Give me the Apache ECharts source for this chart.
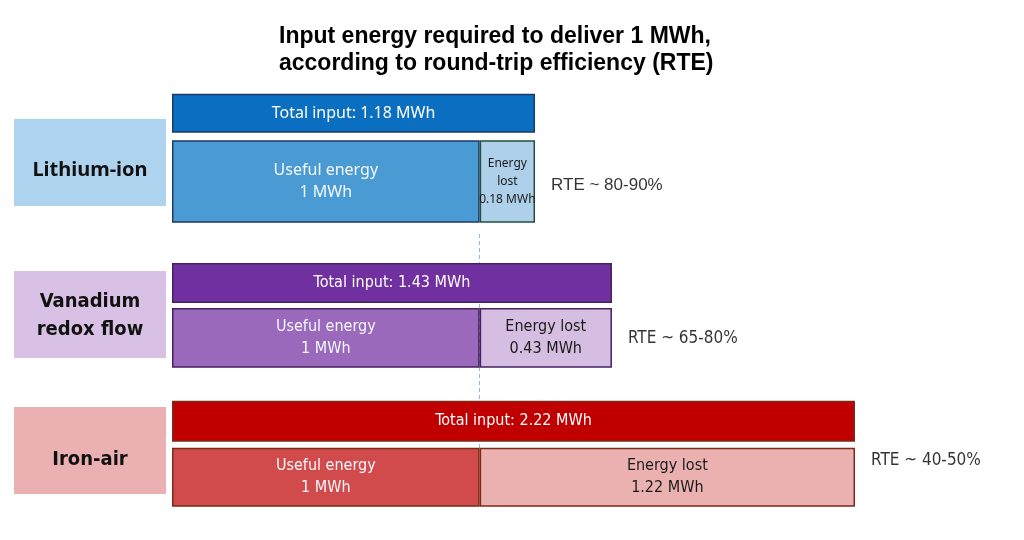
<!DOCTYPE html>
<html>
<head>
<meta charset="utf-8">
<script src="https://cdn.jsdelivr.net/npm/echarts@6/dist/echarts.min.js"></script>
<style>
  html, body { margin: 0; padding: 0; background: #ffffff; }
  #chart { width: 1024px; height: 540px; }
</style>
</head>
<body>
<div id="chart"></div>
<script>
// ---- data ----
const technologies = ['Lithium-ion', 'Vanadium\nredox flow', 'Iron-air'];
const usefulEnergy = [1, 1, 1];
const energyLost = [0.18, 0.43, 1.22];
const totalInput = [1.18, 1.43, 2.22];
const rteLabels = ['RTE ~ 80-90%', 'RTE ~ 65-80%', 'RTE ~ 40-50%'];
const lostLabelTemplates = ['Energy\nlost\n{v} MWh', 'Energy lost\n{v} MWh', 'Energy lost\n{v} MWh'];
const rowNames = ['total', 'split'];
const titleText = 'Input energy required to deliver 1 MWh,\naccording to round-trip efficiency (RTE)';

// ---- layout / styles ----
const xMax = 2.22;
const plotLeft = 172, plotWidth = 683;
const groupLayout = [
  { top: 77, height: 145, totalH: 39, splitH: 91 },
  { top: 255, height: 112, totalH: 40, splitH: 62 },
  { top: 393, height: 113, totalH: 41, splitH: 60 }
];
const palette = [
  { total: '#0A6EC1', useful: '#4A9AD4', lost: '#AED0EA', border: '#1E3A66', lostBorder: '#22503A', box: '#AED3EE' },
  { total: '#7030A0', useful: '#9B69BB', lost: '#D6BEE2', border: '#45215F', lostBorder: '#45215F', box: '#D9C1E6' },
  { total: '#C00000', useful: '#D24B4C', lost: '#EBB1B1', border: '#7A2A18', lostBorder: '#7A2A18', box: '#EBB0B1' }
];
const boxLayout = [
  { y: 119, h: 87, textY: 170 },
  { y: 271, h: 87, textY: 316 },
  { y: 407, h: 87, textY: 460 }
];
const rteOffsets = [[0, 0], [0, 0], [0, -17]];
const condensed = '"DejaVu Sans Condensed", "Liberation Sans Narrow", sans-serif';
const barFont = ['Noto Sans', condensed, condensed];
const boxFont = ['"Noto Sans"', condensed, condensed];

const grid = [], xAxis = [], yAxis = [], series = [];

technologies.forEach((tech, i) => {
  const L = groupLayout[i], C = palette[i];
  grid.push({ left: plotLeft, width: plotWidth, top: L.top, height: L.height });
  xAxis.push({ type: 'value', gridIndex: i, min: 0, max: xMax, show: false });
  yAxis.push({ type: 'category', gridIndex: i, data: rowNames, inverse: true, show: false });
  yAxis.push({ type: 'category', gridIndex: i, data: rowNames, inverse: true, show: false });
  const yTotal = 2 * i, ySplit = 2 * i + 1;
  const font = barFont[i];

  series.push({
    type: 'bar', name: 'Total input', xAxisIndex: i, yAxisIndex: yTotal,
    barWidth: L.totalH, z: 5,
    data: [totalInput[i], '-'],
    itemStyle: { color: C.total, borderColor: C.border, borderWidth: 1.5 },
    label: {
      show: true, position: 'inside', color: '#ffffff', fontSize: 16, fontFamily: font,
      formatter: p => 'Total input: ' + p.value + ' MWh'
    }
  });
  series.push({
    type: 'bar', name: 'Useful energy', xAxisIndex: i, yAxisIndex: ySplit,
    stack: 'split' + i, barWidth: L.splitH, z: 5,
    data: ['-', usefulEnergy[i]],
    itemStyle: { color: C.useful, borderColor: C.border, borderWidth: 1.5 },
    label: {
      show: true, position: 'inside', color: '#F4F8FC', fontSize: 16, lineHeight: 22, fontFamily: font,
      formatter: p => 'Useful energy\n' + p.value + ' MWh'
    }
  });
  series.push({
    type: 'bar', name: 'Energy lost', xAxisIndex: i, yAxisIndex: ySplit,
    stack: 'split' + i, barWidth: L.splitH, z: 5,
    data: ['-', energyLost[i]],
    itemStyle: { color: C.lost, borderColor: C.lostBorder, borderWidth: 1.5 },
    label: {
      show: true, position: 'inside', color: '#1a1a1a', fontSize: i === 0 ? 12 : 16,
      lineHeight: i === 0 ? 18 : 22, fontFamily: font,
      formatter: p => lostLabelTemplates[i].replace('{v}', p.value)
    }
  });
  series.push({
    type: 'scatter', name: 'RTE', xAxisIndex: i, yAxisIndex: ySplit,
    symbolSize: 0, silent: true, z: 6,
    data: [[totalInput[i], 'split']],
    label: {
      show: true, position: 'right', distance: 16, offset: rteOffsets[i],
      color: '#000000', fontSize: 17, fontFamily: i === 0 ? 'Liberation Sans' : barFont[i],
      formatter: () => rteLabels[i]
    },
    emphasis: { disabled: true }
  });
});

// overlay grid for the dashed reference line at 1 MWh (drawn behind the bars)
grid.push({ left: plotLeft, width: plotWidth, top: 232, height: 216 });
xAxis.push({ type: 'value', gridIndex: 3, min: 0, max: xMax, show: false });
yAxis.push({ type: 'value', gridIndex: 3, min: 0, max: 1, show: false });
series.push({
  type: 'line', xAxisIndex: 3, yAxisIndex: 6, data: [], z: 0, silent: true,
  markLine: {
    z: 0, symbol: 'none', silent: true, label: { show: false },
    lineStyle: { type: [4, 3], color: '#8DB8E0', width: 1 },
    data: [{ xAxis: usefulEnergy[0] }]
  }
});

// category boxes on the left
const graphic = [];
technologies.forEach((tech, i) => {
  const B = boxLayout[i];
  graphic.push({
    type: 'rect', left: 14, top: B.y, shape: { width: 152, height: B.h },
    style: { fill: palette[i].box }, z: 1
  });
  graphic.push({
    type: 'text', x: 90, y: B.textY, z: 2,
    style: {
      text: tech, fill: '#111111', font: 'bold 20px ' + boxFont[i],
      textAlign: 'center', textVerticalAlign: 'middle', lineHeight: 28
    }
  });
});

const chart = echarts.init(document.getElementById('chart'), null, { renderer: 'canvas' });
chart.setOption({
  backgroundColor: '#ffffff',
  animation: false,
  title: {
    text: titleText, left: 274, top: 18,
    textStyle: { fontFamily: 'Liberation Sans', fontWeight: 'bold', fontSize: 23, lineHeight: 27, color: '#000000' }
  },
  grid, xAxis, yAxis, series, graphic
});
</script>
</body>
</html>
